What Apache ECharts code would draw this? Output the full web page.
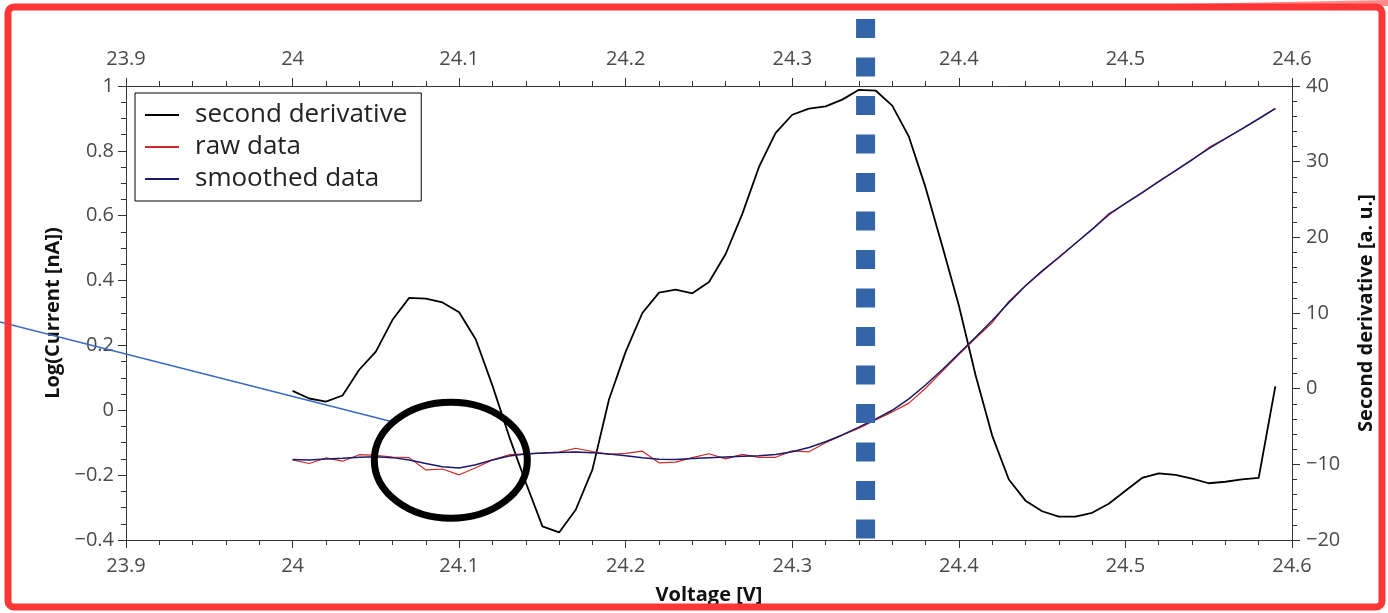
<!DOCTYPE html>
<html>
<head>
<meta charset="utf-8">
<script src="https://cdn.jsdelivr.net/npm/echarts@6/dist/echarts.min.js"></script>
<style>
  html, body { margin: 0; padding: 0; background: #fff; }
  #main { width: 1388px; height: 613px; }
</style>
</head>
<body>
<div id="main"></div>
<script>
// voltage steps of the sweep
var voltage = [24.00, 24.01, 24.02, 24.03, 24.04, 24.05, 24.06, 24.07, 24.08, 24.09,
  24.10, 24.11, 24.12, 24.13, 24.14, 24.15, 24.16, 24.17, 24.18, 24.19,
  24.20, 24.21, 24.22, 24.23, 24.24, 24.25, 24.26, 24.27, 24.28, 24.29,
  24.30, 24.31, 24.32, 24.33, 24.34, 24.35, 24.36, 24.37, 24.38, 24.39,
  24.40, 24.41, 24.42, 24.43, 24.44, 24.45, 24.46, 24.47, 24.48, 24.49,
  24.50, 24.51, 24.52, 24.53, 24.54, 24.55, 24.56, 24.57, 24.58, 24.59]

// second derivative [a. u.] (right axis)
var secondDerivative = [-0.3, -1.3, -1.7, -0.9, 2.5, 4.9, 9.1, 12.0, 11.9, 11.4,
  10.1, 6.5, 0.4, -6.3, -12.4, -18.2, -19.0, -16.0, -10.7, -1.4,
  4.9, 10.0, 12.7, 13.1, 12.6, 14.1, 17.8, 23.1, 29.3, 33.8,
  36.2, 37.0, 37.3, 38.2, 39.5, 39.4, 37.4, 33.3, 26.6, 18.9,
  11.0, 1.8, -6.2, -12.0, -14.8, -16.2, -16.9, -16.9, -16.4, -15.2,
  -13.5, -11.8, -11.2, -11.4, -11.9, -12.5, -12.3, -12.0, -11.8, 0.3]

// log(current [nA]) raw (left axis)
var rawData = [-0.153, -0.164, -0.147, -0.157, -0.137, -0.139, -0.144, -0.146, -0.184, -0.181,
  -0.199, -0.177, -0.153, -0.137, -0.134, -0.132, -0.129, -0.117, -0.127, -0.136,
  -0.133, -0.126, -0.162, -0.160, -0.146, -0.134, -0.150, -0.136, -0.145, -0.145,
  -0.125, -0.128, -0.100, -0.077, -0.055, -0.030, -0.005, 0.022, 0.068, 0.120,
  0.172, 0.222, 0.270, 0.336, 0.384, 0.428, 0.470, 0.514, 0.558, 0.606,
  0.638, 0.670, 0.706, 0.738, 0.772, 0.810, 0.838, 0.868, 0.899, 0.931]

// log(current [nA]) smoothed (left axis)
var smoothedData = [-0.152, -0.153, -0.150, -0.148, -0.145, -0.143, -0.146, -0.153, -0.164, -0.174,
  -0.178, -0.168, -0.153, -0.141, -0.135, -0.132, -0.130, -0.129, -0.131, -0.135,
  -0.140, -0.146, -0.151, -0.152, -0.149, -0.146, -0.144, -0.142, -0.140, -0.136,
  -0.128, -0.115, -0.097, -0.076, -0.052, -0.027, 0.000, 0.035, 0.078, 0.125,
  0.175, 0.225, 0.277, 0.332, 0.384, 0.430, 0.472, 0.515, 0.558, 0.603,
  0.638, 0.671, 0.705, 0.739, 0.773, 0.807, 0.838, 0.868, 0.899, 0.930]

// annotations
var peakVoltage = 24.344
var circleCenter = [24.095, -0.154]
var pointerEnd = [24.061, -0.037]

function pairs (ys) {
  return voltage.map(function (x, i) { return [x, ys[i]] })
}
function fmt (v) {
  return String(+v.toFixed(2)).replace('-', '\u2212')
}

var font = '"Open Sans", "DejaVu Sans", sans-serif'
var axisColor = '#333'
var labelStyle = { color: '#4a4a4a', fontSize: 20, fontFamily: font }
var nameStyle = { color: '#111', fontSize: 20, fontWeight: 'bold', fontFamily: font }

function xAxis (pos) {
  return {
    type: 'value',
    position: pos,
    min: 23.9,
    max: 24.6,
    interval: 0.1,
    axisLine: { show: true, onZero: false, lineStyle: { color: axisColor } },
    axisTick: { show: true, length: 8, lineStyle: { color: axisColor } },
    minorTick: { show: true, splitNumber: 5, length: 5, lineStyle: { color: axisColor } },
    axisLabel: Object.assign({ margin: pos === 'top' ? 17 : 16, formatter: fmt }, labelStyle),
    splitLine: { show: false }
  }
}

var myChart = echarts.init(document.getElementById('main'))
myChart.setOption({
  animation: false,
  backgroundColor: '#fff',
  grid: { left: 126, right: 96, top: 86, bottom: 73 },
  legend: {
    left: 135,
    top: 93,
    orient: 'vertical',
    backgroundColor: '#fff',
    borderColor: '#000',
    borderWidth: 1,
    padding: [9, 14, 9, 10],
    itemGap: 6,
    icon: 'rect',
    itemWidth: 34,
    itemHeight: 2,
    textStyle: { color: '#222', fontSize: 26, fontFamily: font, padding: [0, 0, 0, 11] },
    data: ['second derivative', 'raw data', 'smoothed data']
  },
  xAxis: [
    Object.assign(xAxis('bottom'), {
      name: 'Voltage [V]',
      nameLocation: 'middle',
      nameGap: 45,
      nameTextStyle: nameStyle
    }),
    xAxis('top')
  ],
  yAxis: [
    {
      type: 'value',
      position: 'left',
      min: -0.4,
      max: 1,
      interval: 0.2,
      name: 'Log(Current [nA])',
      nameLocation: 'middle',
      nameGap: 60,
      nameTextStyle: nameStyle,
      axisLine: { show: true, onZero: false, lineStyle: { color: axisColor } },
      axisTick: { show: true, length: 8, lineStyle: { color: axisColor } },
      minorTick: { show: true, splitNumber: 4, length: 5, lineStyle: { color: axisColor } },
      axisLabel: Object.assign({ margin: 12, formatter: fmt }, labelStyle),
      splitLine: { show: false }
    },
    {
      type: 'value',
      position: 'right',
      min: -20,
      max: 40,
      interval: 10,
      name: 'Second derivative [a. u.]',
      nameLocation: 'middle',
      nameGap: 64,
      nameRotate: 90,
      nameTextStyle: nameStyle,
      axisLine: { show: true, onZero: false, lineStyle: { color: axisColor } },
      axisTick: { show: true, length: 8, lineStyle: { color: axisColor } },
      minorTick: { show: true, splitNumber: 5, length: 5, lineStyle: { color: axisColor } },
      axisLabel: Object.assign({ margin: 14, formatter: fmt }, labelStyle),
      splitLine: { show: false }
    }
  ],
  series: [
    {
      name: 'second derivative',
      type: 'line',
      yAxisIndex: 1,
      symbol: 'none',
      data: pairs(secondDerivative),
      itemStyle: { color: '#000' },
      lineStyle: { color: '#000', width: 1.8 }
    },
    {
      name: 'raw data',
      type: 'line',
      symbol: 'none',
      data: pairs(rawData),
      itemStyle: { color: '#cc2a2a' },
      lineStyle: { color: '#cc2a2a', width: 1.2 }
    },
    {
      name: 'smoothed data',
      type: 'line',
      symbol: 'none',
      data: pairs(smoothedData),
      itemStyle: { color: '#1a1a66' },
      lineStyle: { color: '#1a1a66', width: 1.5 }
    }
  ]
})

// overlays drawn on top: peak marker, pointer, circle, frame
var px = myChart.convertToPixel({ xAxisIndex: 0 }, peakVoltage)
var c = myChart.convertToPixel({ xAxisIndex: 0, yAxisIndex: 0 }, circleCenter)
var p = myChart.convertToPixel({ xAxisIndex: 0, yAxisIndex: 0 }, pointerEnd)
var slope = (p[1] - 322) / p[0]

myChart.setOption({
  graphic: [
    {
      type: 'line',
      z: 100,
      shape: { x1: px, y1: 19, x2: px, y2: 539 },
      style: { stroke: '#3465a8', lineWidth: 19, lineDash: [19, 19.5] }
    },
    {
      type: 'line',
      z: 100,
      shape: { x1: 0, y1: p[1] - slope * p[0], x2: p[0], y2: p[1] },
      style: { stroke: '#3a6bbd', lineWidth: 1.6 }
    },
    {
      type: 'ellipse',
      z: 100,
      shape: { cx: c[0], cy: c[1], rx: 76.5, ry: 58 },
      style: { fill: null, stroke: '#000', lineWidth: 7 }
    },
    {
      type: 'polygon',
      z: 100,
      shape: { points: [[1180, 4], [1388, 0], [1388, 6]] },
      style: { fill: '#ff8a8a' }
    },
    {
      type: 'rect',
      z: 101,
      shape: { x: 8, y: 7, width: 1374, height: 600, r: 6 },
      style: { fill: null, stroke: '#ff3636', lineWidth: 7 }
    }
  ]
})
</script>
</body>
</html>
